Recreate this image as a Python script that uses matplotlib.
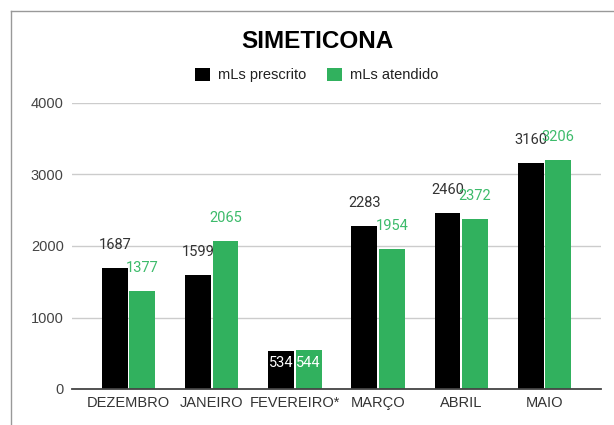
import numpy as np
import matplotlib
matplotlib.use("Agg")
import matplotlib.pyplot as plt
from matplotlib.lines import Line2D
from matplotlib.patches import Patch

# --- data ---
meses = ["DEZEMBRO", "JANEIRO", "FEVEREIRO*", "MARÇO", "ABRIL", "MAIO"]
prescrito = [1687, 1599, 534, 2283, 2460, 3160]
atendido = [1377, 2065, 544, 1954, 2372, 3206]

# --- style ---
COR_PRESCRITO = "#000000"
COR_ATENDIDO = "#31b15e"
COR_LABEL_VERDE = "#3dbb6b"
plt.rcParams["font.family"] = ["Liberation Sans", "DejaVu Sans"]

fig = plt.figure(figsize=(6.14, 4.25), dpi=100)
ax = fig.add_axes([72 / 614, 1 - 389 / 425, (601 - 72) / 614, (389 - 103) / 425])

x = np.arange(len(meses))
w = 0.31
off = 0.165
b1 = ax.bar(x - off, prescrito, w, color=COR_PRESCRITO, zorder=3)
b2 = ax.bar(x + off, atendido, w, color=COR_ATENDIDO, zorder=3)

# data labels (inside bars when the bar is short)
for bars, vals, cor in [(b1, prescrito, "#333333"), (b2, atendido, COR_LABEL_VERDE)]:
    for rect, v in zip(bars, vals):
        cx = rect.get_x() + rect.get_width() / 2
        if v < 1000:
            ax.annotate(str(v), (cx, v), xytext=(0, -4), textcoords="offset points",
                        ha="center", va="top", color="white", fontsize=10.5,
                        family="Roboto", zorder=5)
        else:
            ax.annotate(str(v), (cx, v), xytext=(0, 11.5), textcoords="offset points",
                        ha="center", va="bottom", color=cor, fontsize=10.5,
                        family="Roboto", zorder=5)

ax.set_xlim(-0.68, len(meses) - 0.32)
ax.set_ylim(0, 4000)
ax.set_yticks([0, 1000, 2000, 3000, 4000])
ax.set_xticks(x)
ax.set_xticklabels(meses)
ax.tick_params(axis="both", length=0, labelsize=10.5)
ax.tick_params(axis="y", pad=6, labelcolor="#444444")
ax.tick_params(axis="x", pad=5, labelcolor="#333333")

ax.grid(axis="y", color="#cccccc", linewidth=1, zorder=0)
for s in ["top", "right", "left"]:
    ax.spines[s].set_visible(False)
ax.spines["bottom"].set_color("#444444")
ax.spines["bottom"].set_linewidth(1.3)
ax.spines["bottom"].set_zorder(4)

# title + legend
fig.text(317 / 614, 1 - 42 / 425, "SIMETICONA", ha="center", va="center",
         fontsize=17.5, fontweight="bold", color="#000000")
handles = [Patch(facecolor=COR_PRESCRITO, label="mLs prescrito"),
           Patch(facecolor=COR_ATENDIDO, label="mLs atendido")]
fig.legend(handles=handles, loc="center", bbox_to_anchor=(317 / 614, 1 - 75 / 425),
           ncol=2, frameon=False, fontsize=10.5, handlelength=1.0, handleheight=1.0,
           handletextpad=0.6, columnspacing=1.4, labelcolor="#222222")

# screenshot frame
fig.add_artist(Line2D([11 / 614, 1], [1 - 11 / 425, 1 - 11 / 425], color="#999999", linewidth=1))
fig.add_artist(Line2D([11 / 614, 11 / 614], [0, 1 - 11 / 425], color="#999999", linewidth=1))

fig.savefig("out.png", dpi=100)
